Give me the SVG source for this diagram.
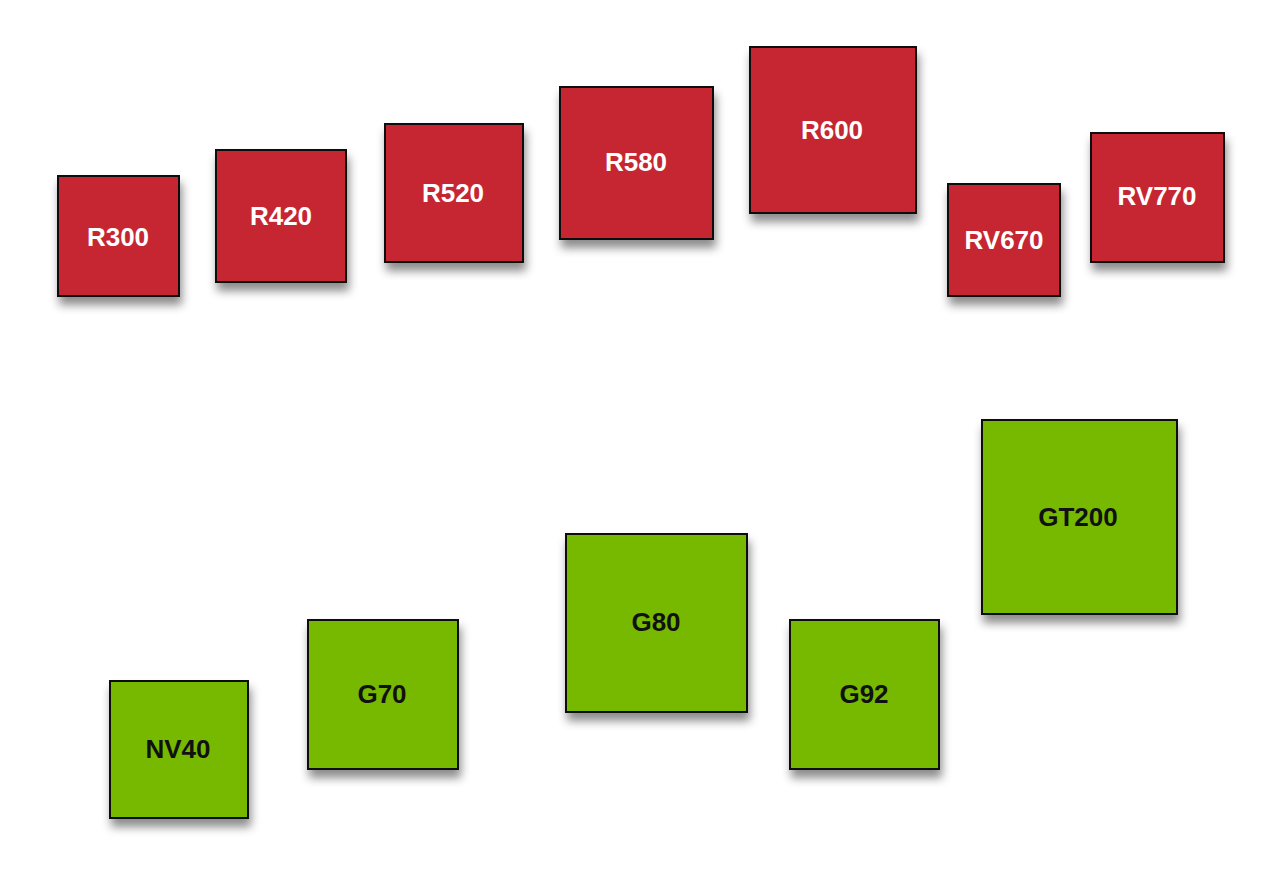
<svg xmlns="http://www.w3.org/2000/svg" width="1280" height="889" viewBox="0 0 1280 889">
<defs>
<filter id="sh" x="-20%" y="-20%" width="150%" height="150%"><feDropShadow dx="2" dy="8" stdDeviation="5" flood-color="#000" flood-opacity="0.45"/></filter>
</defs>
<style>
.r{fill:#c62832;stroke:#111;stroke-width:2;filter:url(#sh)}
.g{fill:#76b900;stroke:#111;stroke-width:2;filter:url(#sh)}
.tr{fill:#fff;font-family:"Liberation Sans",Arial,sans-serif;font-weight:bold;font-size:26px;text-anchor:middle;dominant-baseline:central}
.tg{fill:#111;font-family:"Liberation Sans",Arial,sans-serif;font-weight:bold;font-size:26px;text-anchor:middle;dominant-baseline:central}
</style>
<rect width="1280" height="889" fill="#fff"/>
<g id="connectors"/>
<g id="R300"><rect class="r" x="58" y="176" width="121" height="120"/><text class="tr" x="118" y="237">R300</text></g>
<g id="R420"><rect class="r" x="216" y="150" width="130" height="132"/><text class="tr" x="281" y="216">R420</text></g>
<g id="R520"><rect class="r" x="385" y="124" width="138" height="138"/><text class="tr" x="453" y="193">R520</text></g>
<g id="R580"><rect class="r" x="560" y="87" width="153" height="152"/><text class="tr" x="636" y="162">R580</text></g>
<g id="R600"><rect class="r" x="750" y="47" width="166" height="166"/><text class="tr" x="832" y="130">R600</text></g>
<g id="RV670"><rect class="r" x="948" y="184" width="112" height="112"/><text class="tr" x="1004" y="240" font-size="21">RV670</text></g>
<g id="RV770"><rect class="r" x="1091" y="133" width="133" height="129"/><text class="tr" x="1157" y="196">RV770</text></g>
<g id="NV40"><rect class="g" x="110" y="681" width="138" height="137"/><text class="tg" x="178" y="749">NV40</text></g>
<g id="G70"><rect class="g" x="308" y="620" width="150" height="149"/><text class="tg" x="382" y="694">G70</text></g>
<g id="G80"><rect class="g" x="566" y="534" width="181" height="178"/><text class="tg" x="656" y="622">G80</text></g>
<g id="G92"><rect class="g" x="790" y="620" width="149" height="149"/><text class="tg" x="864" y="694">G92</text></g>
<g id="GT200"><rect class="g" x="982" y="420" width="195" height="194"/><text class="tg" x="1078" y="517">GT200</text></g>
</svg>
